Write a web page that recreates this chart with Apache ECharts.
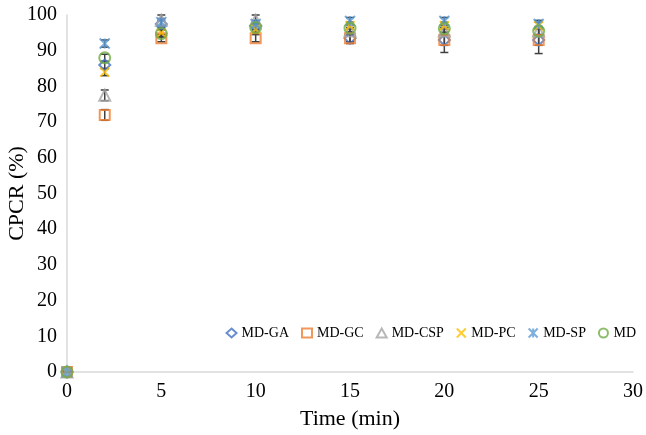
<!DOCTYPE html>
<html><head><meta charset="utf-8">
<script src="https://cdn.jsdelivr.net/npm/echarts@6/dist/echarts.min.js"></script>
<style>html,body{margin:0;padding:0;background:#fff}#c{width:646px;height:435px}</style>
</head><body><div id="c"></div>
<script>
const times = [0, 2, 5, 10, 15, 20, 25];
const seriesNames = ['MD-GA', 'MD-GC', 'MD-CSP', 'MD-PC', 'MD-SP', 'MD'];
const mdGA  = [0, 86,   97.5, 97,   93.5, 93,   93];
const mdGC  = [0, 72,   93.5, 93.5, 93.5, 93,   93];
const mdCSP = [0, 77.5, 98.5, 98.5, 95.5, 95.5, 95.5];
const mdPC  = [0, 84,   95,   96,   97,   97,   97];
const mdSP  = [0, 92,   98,   97.5, 98.3, 98.3, 97.5];
const mdMD  = [0, 88,   94.8, 96.5, 96.3, 96.2, 95.5];
const errGA  = [0, 1,   1,   1,   1,   3.5, 3.8];
const errGC  = [0, 1.5, 1,   1,   1.5, 1.5, 1.5];
const errCSP = [0, 1.5, 1.5, 1.5, 1,   1,   1];
const errPC  = [0, 1,   1,   1,   1,   1,   1];
const errSP  = [0, 1,   1,   1,   1,   1,   1];
const errMD  = [0, 1,   1,   1,   1,   1,   1];

const values = [mdGA, mdGC, mdCSP, mdPC, mdSP, mdMD];
const errs = [errGA, errGC, errCSP, errPC, errSP, errMD];
const colors = ['#4472C4', '#ED7D31', '#A5A5A5', '#FFC000', '#5B9BD5', '#70AD47'];
const symbols = ['diamond', 'rect', 'triangle', 'path://M0,0L10,10M10,0L0,10', 'path://M0,0L10,10M10,0L0,10M5,0L5,10', 'circle'];
const sizes = [11, 10, 11, 9, 10, 11];

const series = [];
values.forEach((v, i) => {
  series.push({
    type: 'custom',
    z: 1,
    silent: true,
    data: times.map((t, k) => [t, v[k] - errs[i][k], v[k] + errs[i][k]]),
    renderItem: function (params, api) {
      const x = api.value(0);
      const lo = api.coord([x, api.value(1)]);
      const hi = api.coord([x, api.value(2)]);
      const w = 4;
      const style = { stroke: '#404040', lineWidth: 1.5 };
      return {
        type: 'group',
        children: [
          { type: 'line', shape: { x1: lo[0], y1: lo[1], x2: hi[0], y2: hi[1] }, style },
          { type: 'line', shape: { x1: lo[0] - w, y1: lo[1], x2: lo[0] + w, y2: lo[1] }, style },
          { type: 'line', shape: { x1: hi[0] - w, y1: hi[1], x2: hi[0] + w, y2: hi[1] }, style }
        ]
      };
    }
  });
});
values.forEach((v, i) => {
  series.push({
    name: seriesNames[i],
    type: 'scatter',
    z: 2,
    symbol: symbols[i],
    symbolSize: sizes[i],
    data: times.map((t, k) => [t, v[k]]),
    itemStyle: { color: 'rgba(255,255,255,0)', borderColor: colors[i], borderWidth: 2 }
  });
});

const chart = echarts.init(document.getElementById('c'));
chart.setOption({
  animation: false,
  backgroundColor: '#fff',
  grid: { left: 67, right: 13, top: 15, bottom: 63, containLabel: false, outerBoundsMode: 'none' },
  legend: {
    data: seriesNames,
    right: 5, top: 321,
    itemWidth: 10, itemHeight: 9, itemGap: 12,
    textStyle: { fontFamily: 'Liberation Serif', fontSize: 14, color: '#000' }
  },
  xAxis: {
    type: 'value', min: 0, max: 30, interval: 5,
    name: 'Time (min)', nameLocation: 'middle', nameGap: 36, nameMoveOverlap: false,
    nameTextStyle: { fontFamily: 'Liberation Serif', fontSize: 22, color: '#000' },
    axisLine: { lineStyle: { color: '#d9d9d9', width: 1.5 } },
    axisTick: { show: false },
    splitLine: { show: false },
    axisLabel: { fontFamily: 'Liberation Serif', fontSize: 20, color: '#000', margin: 10 }
  },
  yAxis: {
    type: 'value', min: 0, max: 100, interval: 10,
    name: 'CPCR (%)', nameLocation: 'middle', nameGap: 39, nameMoveOverlap: false,
    nameTextStyle: { fontFamily: 'Liberation Serif', fontSize: 22, color: '#000' },
    axisLine: { show: true, lineStyle: { color: '#d9d9d9', width: 1.5 } },
    axisTick: { show: false },
    splitLine: { show: false },
    axisLabel: { fontFamily: 'Liberation Serif', fontSize: 20, color: '#000', margin: 10 }
  },
  series
});
</script></body></html>
